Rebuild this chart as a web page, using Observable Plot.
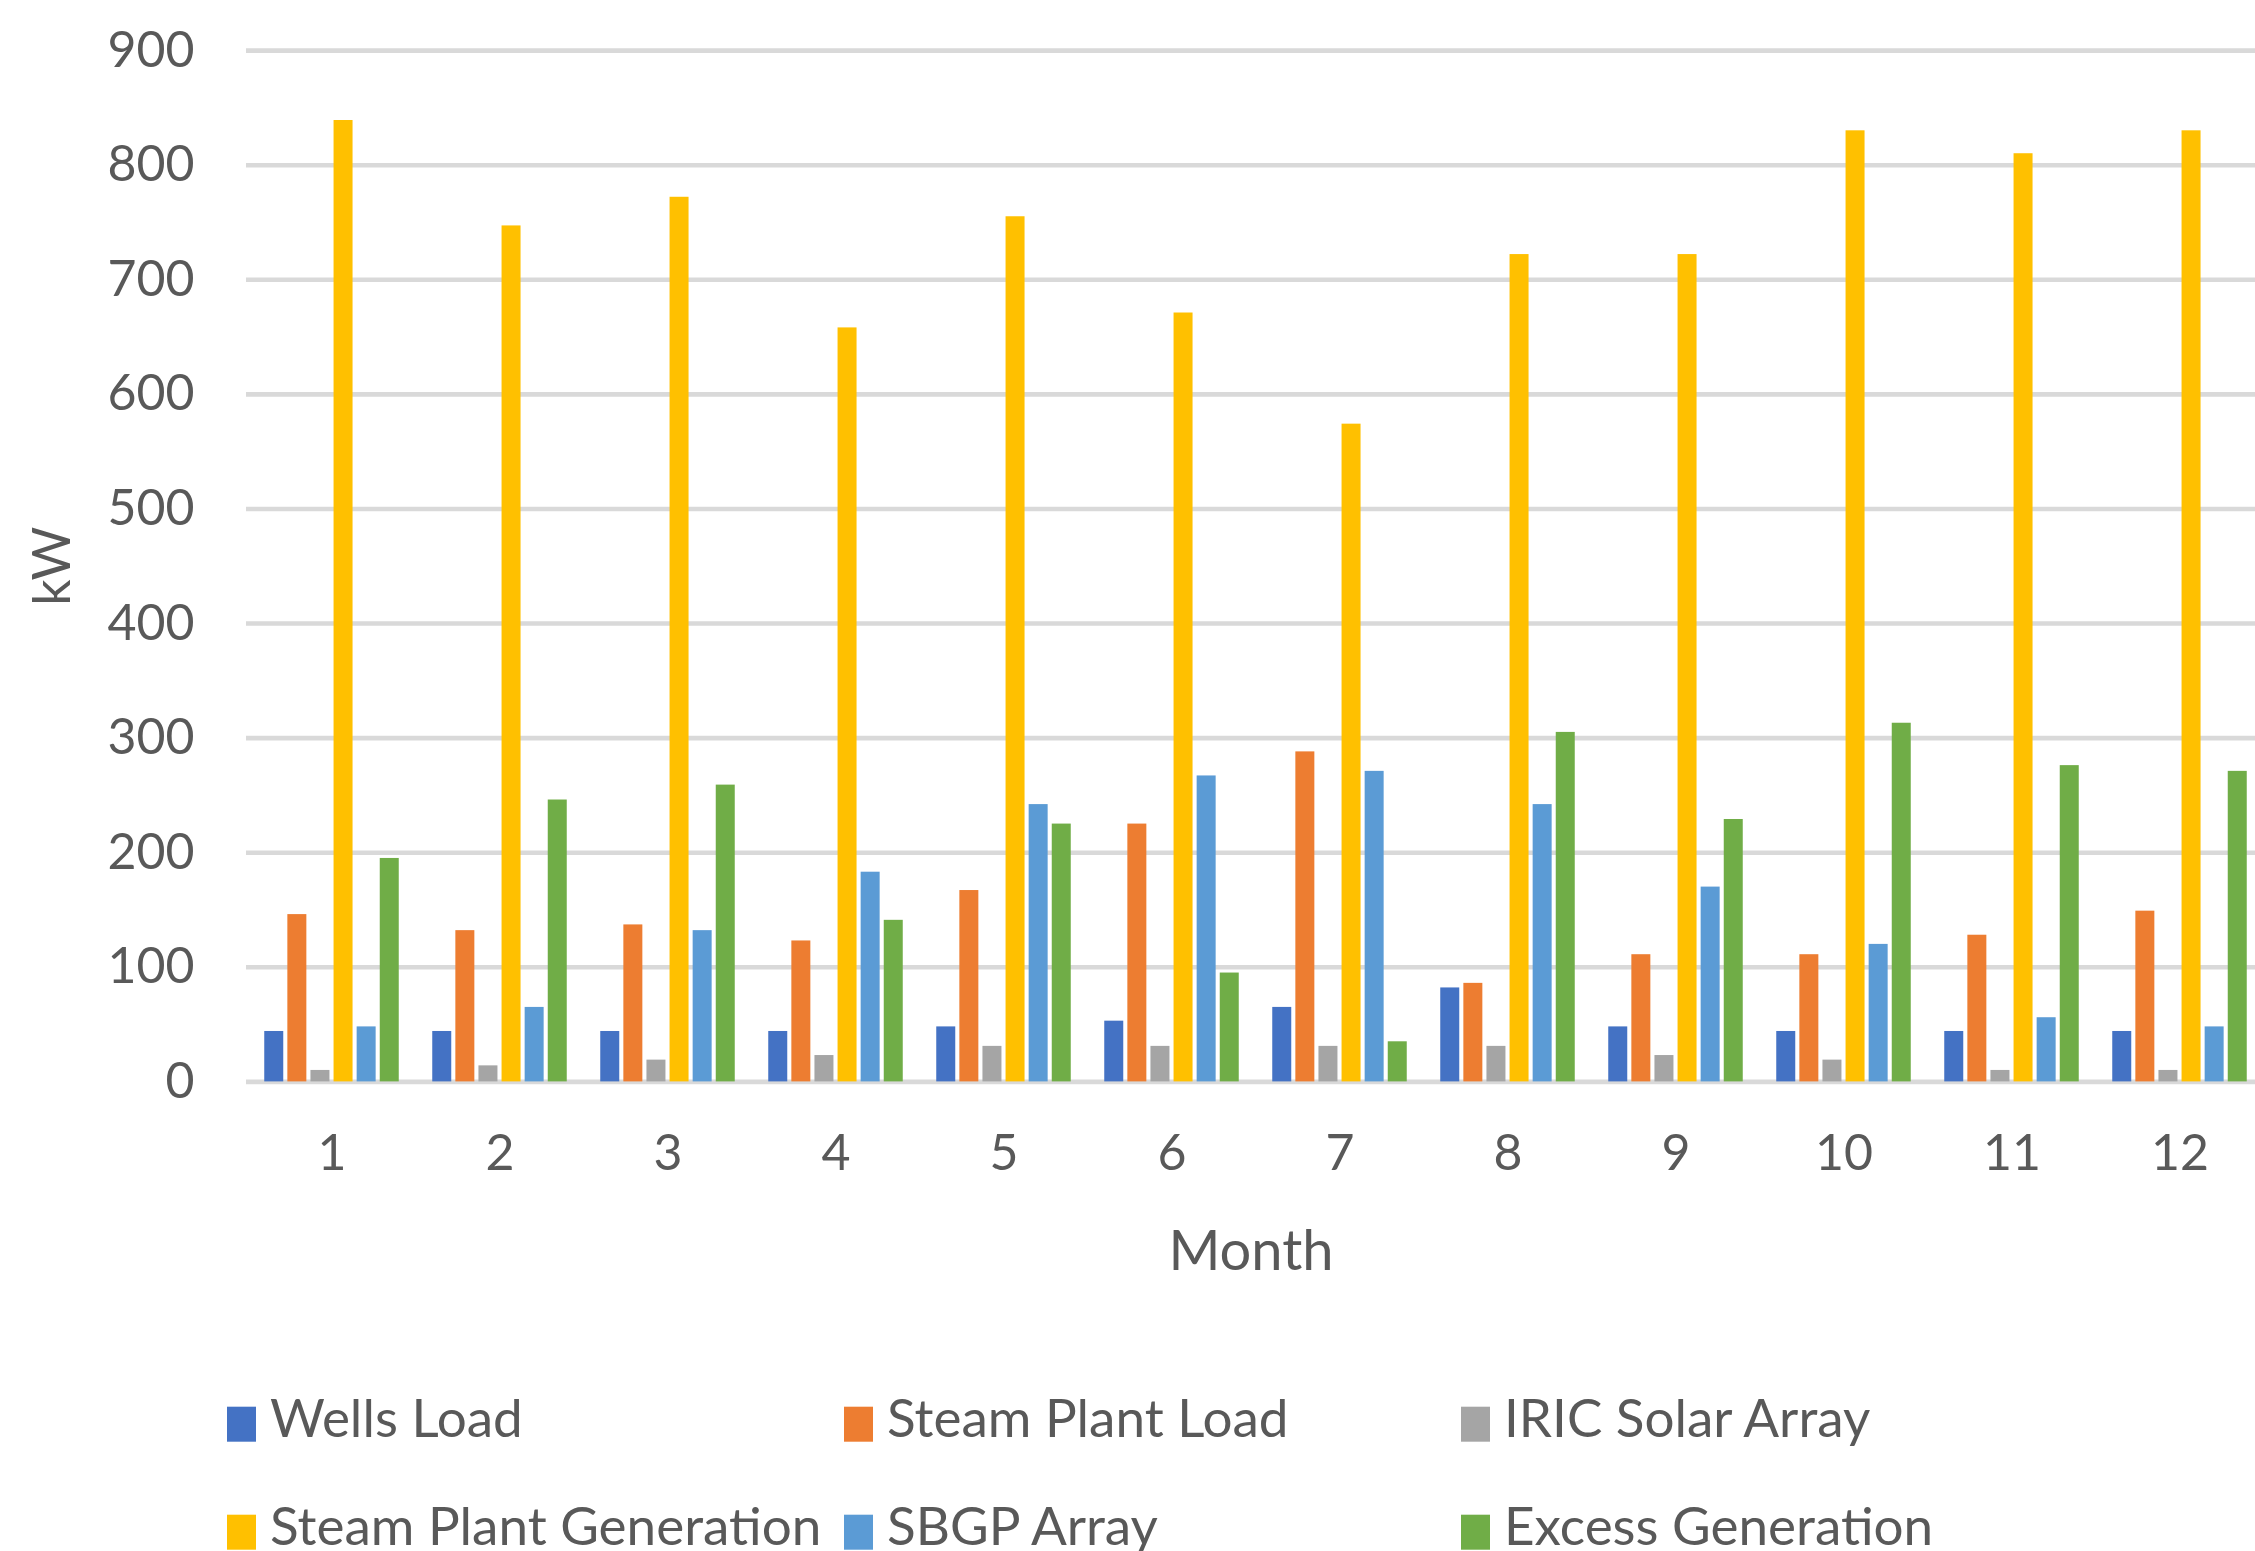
<!DOCTYPE html>
<html><head><meta charset="utf-8">
<script src="https://cdn.jsdelivr.net/npm/d3@7"></script>
<script src="https://cdn.jsdelivr.net/npm/@observablehq/plot@0.6"></script>
<style>
html,body{margin:0;padding:0;background:#fff;}
#chart{position:relative;width:2255px;height:1551px;overflow:hidden;background:#fff;}
#chart svg{display:block;}
</style></head><body><div id="chart"></div>
<script>
// ---- data ----
const months = ["1","2","3","4","5","6","7","8","9","10","11","12"];
const seriesNames = ["Wells Load","Steam Plant Load","IRIC Solar Array","Steam Plant Generation","SBGP Array","Excess Generation"];
const seriesColors = ["#4472C4","#ED7D31","#A5A5A5","#FFC000","#5B9BD5","#70AD47"];
const wellsLoad       = [44, 44, 44, 44, 48, 53, 65, 82, 48, 44, 44, 44];
const steamPlantLoad  = [146, 132, 137, 123, 167, 225, 288, 86, 111, 111, 128, 149];
const iricSolarArray  = [10, 14, 19, 23, 31, 31, 31, 31, 23, 19, 10, 10];
const steamPlantGen   = [839, 747, 772, 658, 755, 671, 574, 722, 722, 830, 810, 830];
const sbgpArray       = [48, 65, 132, 183, 242, 267, 271, 242, 170, 120, 56, 48];
const excessGen       = [195, 246, 259, 141, 225, 95, 35, 305, 229, 313, 276, 271];
const yTicks = [0, 100, 200, 300, 400, 500, 600, 700, 800, 900];
const xTitle = "Month";
const yTitle = "kW";

const seriesValues = [wellsLoad, steamPlantLoad, iricSolarArray, steamPlantGen, sbgpArray, excessGen];
const rows = seriesNames.flatMap((name, i) =>
  months.map((m, j) => ({month: m, series: name, kw: seriesValues[i][j]})));

const W = 2255, H = 1300;
const textColor = "#595959";
const font = "Lato";
const fs = 50;
const barStep = 23.1;

const plot = Plot.plot({
  width: W, height: H,
  marginTop: 50.1, marginBottom: H - 1081.4, marginLeft: 246, marginRight: 0,
  x: {domain: months, range: [248, 2264], paddingInner: 0.884, paddingOuter: 0.442,
      label: null, tickSize: 0, tickPadding: 53},
  y: {domain: [0, 900], ticks: yTicks, tickSize: 0, tickPadding: 52, label: null},
  style: {fontFamily: font, fontSize: fs + "px", color: textColor, background: "white", overflow: "visible"},
  marks: [
    Plot.ruleY(yTicks, {stroke: "#D9D9D9", strokeWidth: 4.6}),
    ...seriesNames.map((name, i) => Plot.barY(rows.filter(d => d.series === name), {
      x: "month", y: "kw", fill: seriesColors[i], dx: (i - 2.5) * barStep
    })),
    Plot.text([yTitle], {text: d => d, frameAnchor: "left", rotate: -90, dx: -193,
      lineAnchor: "middle", textAnchor: "middle", fill: textColor, fontSize: 52}),
    Plot.text([xTitle], {text: d => d, frameAnchor: "bottom", dy: 148,
      lineAnchor: "top", textAnchor: "middle", fill: textColor, fontSize: 56})
  ]
});
document.getElementById("chart").appendChild(plot);

// ---- legend (below the plot svg) ----
const legend = d3.create("svg").attr("width", W).attr("height", 1551 - H)
  .style("font-family", font).style("font-size", "53px");
seriesNames.forEach((name, i) => {
  const col = i % 3, row = Math.floor(i / 3);
  const x0 = 227 + col * 617, y0 = 106.7 + row * 108;
  legend.append("rect").attr("x", x0).attr("y", y0).attr("width", 29).attr("height", 35).attr("fill", seriesColors[i]);
  legend.append("text").attr("x", x0 + 43).attr("y", 137 + row * 108).attr("fill", textColor).text(name);
});
document.getElementById("chart").appendChild(legend.node());
</script></body></html>
